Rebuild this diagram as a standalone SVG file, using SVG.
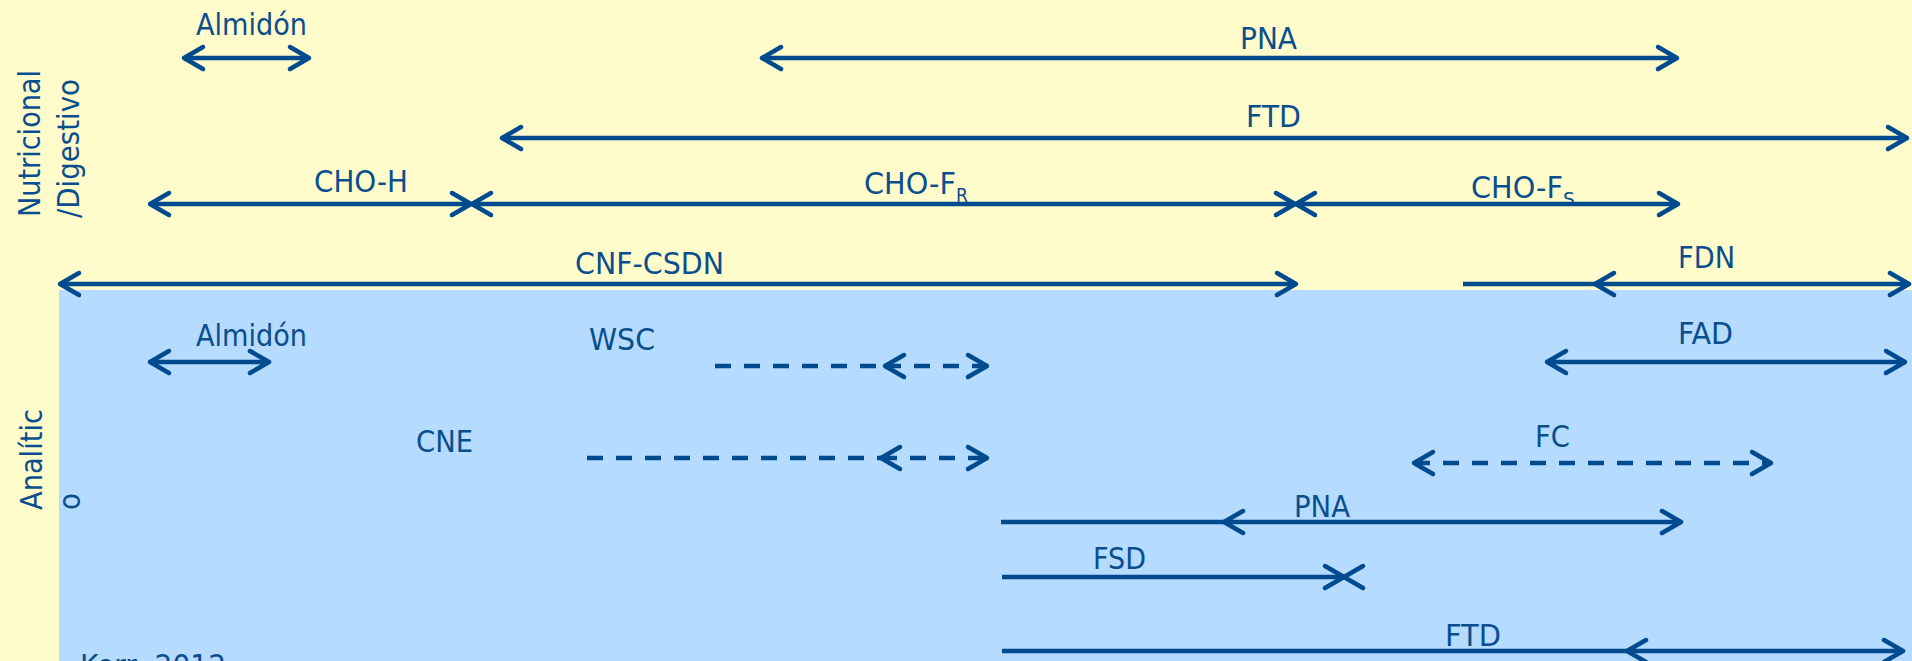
<svg xmlns="http://www.w3.org/2000/svg" width="1912" height="661" viewBox="0 0 1912 661">
<style>
.t{font-family:'DejaVu Sans Condensed','DejaVu Sans',sans-serif;font-size:31px;fill:#0A4E8E}
.sub{font-size:20px}
.ln{stroke:#004A8F;stroke-width:4.5;fill:none}
.d{stroke-dasharray:16 13}
.a{marker-start:url(#ah);marker-end:url(#ah)}
.e{marker-end:url(#ah)}
</style>
<defs>
<marker id="ah" markerUnits="userSpaceOnUse" orient="auto-start-reverse" refX="0" refY="0" markerWidth="40" markerHeight="40" viewBox="-30 -20 40 40" overflow="visible">
<path d="M-19,-11 L0,0 L-19,11" fill="none" stroke="#004A8F" stroke-width="4.5" stroke-linecap="round" stroke-linejoin="round"/>
</marker>
</defs>
<rect x="0" y="0" width="1912" height="661" fill="#FFFBCB"/>
<rect x="59" y="290" width="1853" height="371" fill="#B5DBFE"/>

<g id="axis-labels">
<text class="t" transform="translate(40,217) rotate(-90)" textLength="147" lengthAdjust="spacingAndGlyphs">Nutricional</text>
<text class="t" transform="translate(79,218) rotate(-90)" textLength="139" lengthAdjust="spacingAndGlyphs">/Digestivo</text>
<text class="t" transform="translate(42,510) rotate(-90)" textLength="101" lengthAdjust="spacingAndGlyphs">Analític</text>
<text class="t" transform="translate(80,510) rotate(-90)" textLength="17" lengthAdjust="spacingAndGlyphs">o</text>
</g>

<g id="labels">
<g id="n-almidon-top"><text class="t" x="196" y="35" textLength="111" lengthAdjust="spacingAndGlyphs">Almidón</text></g>
<g id="n-pna-top"><text class="t" x="1240" y="49" textLength="57" lengthAdjust="spacingAndGlyphs">PNA</text></g>
<g id="n-ftd-top"><text class="t" x="1246" y="127" textLength="55" lengthAdjust="spacingAndGlyphs">FTD</text></g>
<g id="n-choh"><text class="t" x="314" y="192" textLength="94" lengthAdjust="spacingAndGlyphs">CHO-H</text></g>
<g id="n-chofr"><text class="t" x="864" y="194"><tspan textLength="92" lengthAdjust="spacingAndGlyphs">CHO-F</tspan><tspan class="sub" x="956" y="202" textLength="12" lengthAdjust="spacingAndGlyphs">R</tspan></text></g>
<g id="n-chofs"><text class="t" x="1471" y="198"><tspan textLength="92" lengthAdjust="spacingAndGlyphs">CHO-F</tspan><tspan class="sub" x="1563" y="206" textLength="12" lengthAdjust="spacingAndGlyphs">S</tspan></text></g>
<g id="n-cnfcsdn"><text class="t" x="575" y="274" textLength="149" lengthAdjust="spacingAndGlyphs">CNF-CSDN</text></g>
<g id="n-fdn"><text class="t" x="1678" y="268" textLength="57" lengthAdjust="spacingAndGlyphs">FDN</text></g>
<g id="n-almidon-bot"><text class="t" x="196" y="346" textLength="111" lengthAdjust="spacingAndGlyphs">Almidón</text></g>
<g id="n-wsc"><text class="t" x="589" y="350" textLength="66" lengthAdjust="spacingAndGlyphs">WSC</text></g>
<g id="n-cne"><text class="t" x="416" y="452" textLength="57" lengthAdjust="spacingAndGlyphs">CNE</text></g>
<g id="n-fad"><text class="t" x="1678" y="344" textLength="55" lengthAdjust="spacingAndGlyphs">FAD</text></g>
<g id="n-fc"><text class="t" x="1535" y="447" textLength="35" lengthAdjust="spacingAndGlyphs">FC</text></g>
<g id="n-pna-bot"><text class="t" x="1294" y="517" textLength="56" lengthAdjust="spacingAndGlyphs">PNA</text></g>
<g id="n-fsd"><text class="t" x="1093" y="569" textLength="53" lengthAdjust="spacingAndGlyphs">FSD</text></g>
<g id="n-ftd-bot"><text class="t" x="1445" y="646" textLength="56" lengthAdjust="spacingAndGlyphs">FTD</text></g>
<g id="n-kerr"><text class="t" x="80" y="676" textLength="146" lengthAdjust="spacingAndGlyphs">Kerr, 2012</text></g>
</g>

<g id="connectors">
<path class="ln a" d="M184,58 H309"/>
<path class="ln a" d="M762,58 H1677"/>
<path class="ln a" d="M502,138 H1907"/>
<path class="ln a" d="M150,204 H471"/>
<path class="ln a" d="M472,204 H1295"/>
<path class="ln a" d="M1296,204 H1678"/>
<path class="ln a" d="M60,284 H1296"/>
<path class="ln" d="M1463,284 H1595"/>
<path class="ln a" d="M1595,284 H1909"/>
<path class="ln a" d="M150,362 H269"/>
<path class="ln d" d="M715,366 H885"/>
<path class="ln d a" d="M885,366 H987"/>
<path class="ln d" d="M587,458 H881"/>
<path class="ln d a" d="M881,458 H987"/>
<path class="ln a" d="M1547,362 H1905"/>
<path class="ln d a" d="M1414,463 H1771"/>
<path class="ln" d="M1001,522 H1224"/>
<path class="ln a" d="M1224,522 H1681"/>
<path class="ln e" d="M1002,577 H1344"/>
<path class="ln" d="M1363,566 L1344,577 L1363,588" stroke-linecap="round" stroke-linejoin="round"/>
<path class="ln" d="M1002,651 H1627"/>
<path class="ln a" d="M1627,651 H1903"/>
</g>
</svg>
